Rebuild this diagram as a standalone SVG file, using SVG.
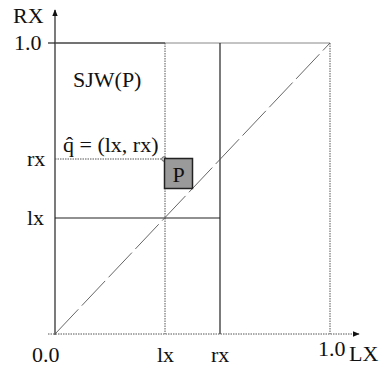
<svg xmlns="http://www.w3.org/2000/svg" width="392" height="370" viewBox="0 0 392 370">
<defs>
<style>
text{font-family:"Liberation Serif","Times New Roman",serif;font-size:22px;fill:#111}
.solid{stroke:#222;stroke-width:1.2;fill:none}
.dot{stroke:#555;stroke-width:1;stroke-dasharray:1.5 1;fill:none}
.gray{stroke:#888;stroke-width:1;fill:none}
.diag{stroke:#555;stroke-width:0.9;stroke-dasharray:34 5;fill:none}
</style>
<marker id="arr" viewBox="0 0 10 10" refX="9" refY="5" markerWidth="7" markerHeight="7" orient="auto" markerUnits="userSpaceOnUse">
<path d="M0,1 L10,5 L0,9 Z" fill="#111"/>
</marker>
</defs>
<rect width="392" height="370" fill="#fff"/>
<g id="connectors">
<line class="solid" x1="55" y1="335" x2="55" y2="10" marker-end="url(#arr)"/>
<line class="dot" x1="48" y1="334" x2="359" y2="334" marker-end="url(#arr)"/>
<line class="solid" x1="48" y1="43" x2="55" y2="43"/>
<line class="gray" x1="55" y1="43" x2="330" y2="43" stroke="#666"/>
<line class="solid" x1="55" y1="43" x2="165" y2="43" stroke="#444"/>
<line class="dot" x1="330" y1="43" x2="330" y2="334"/>
<line class="dot" x1="165" y1="43" x2="165" y2="334"/>
<line class="solid" x1="220" y1="43" x2="220" y2="334"/>
<line class="solid" x1="55" y1="218" x2="220" y2="218"/>
<line class="dot" x1="55" y1="159" x2="164" y2="159"/>
<line class="diag" x1="55" y1="334" x2="330" y2="43"/>
</g>
<g id="axis-labels">
<text x="13" y="23">RX</text>
<text x="14" y="50">1.0</text>
<text x="27" y="166">rx</text>
<text x="27" y="225">lx</text>
<text x="32" y="362">0.0</text>
<text x="157" y="362">lx</text>
<text x="211" y="362">rx</text>
<text x="318" y="356">1.0</text>
<text x="349" y="361">LX</text>
</g>
<g id="sjw-label">
<text x="73" y="87" font-size="24">SJW(P)</text>
</g>
<g id="q-label">
<text x="63" y="152" font-size="23">q̂ = (lx, rx)</text>
<circle cx="164" cy="159" r="2.2" fill="#fff" stroke="#555" stroke-width="1"/>
</g>
<g id="node-P">
<rect x="164.5" y="158.5" width="28" height="30" fill="#9a9a9a" stroke="#222" stroke-width="1.5"/>
<text x="178.5" y="182" text-anchor="middle" font-size="20">P</text>
</g>
</svg>
